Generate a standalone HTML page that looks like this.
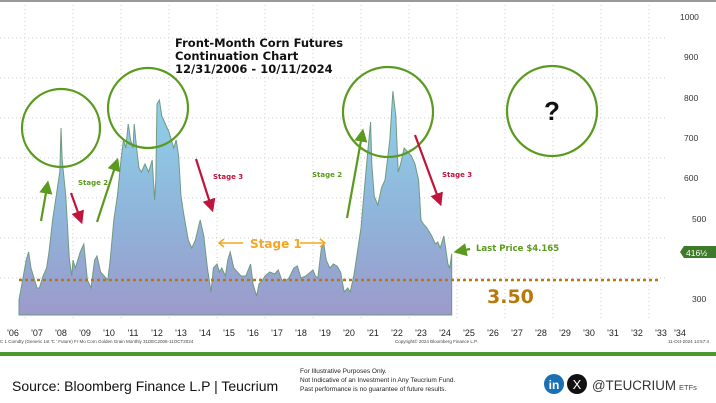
<!DOCTYPE html>
<html><head><meta charset="utf-8"><style>
html,body{margin:0;padding:0;background:#fff;}
body{width:716px;height:403px;overflow:hidden;position:relative;font-family:"Liberation Sans",sans-serif;}
</style></head><body>
<svg id="s" width="716" height="403" viewBox="0 0 716 403" xmlns="http://www.w3.org/2000/svg" style="position:absolute;left:0;top:0">
<defs>
<linearGradient id="g" x1="0" x2="0" gradientUnits="userSpaceOnUse" y1="90" y2="315">
<stop offset="0" stop-color="#8fd3ea"/><stop offset="0.55" stop-color="#8fb5da"/><stop offset="1" stop-color="#9c9acb"/>
</linearGradient>
<marker id="ag" markerWidth="6" markerHeight="6" refX="3" refY="3" orient="auto"><path d="M0,0 L6,3 L0,6 z" fill="#5a9a1e"/></marker>
<marker id="ar" markerWidth="6" markerHeight="6" refX="3" refY="3" orient="auto"><path d="M0,0 L6,3 L0,6 z" fill="#c0143c"/></marker>
</defs>
<rect x="0" y="0" width="716" height="2" fill="#999"/>
<g id="grid" stroke="#ccc" stroke-width="1" stroke-dasharray="1,3"></g>
<polygon id="area" fill="url(#g)" stroke="#6f9a80" stroke-width="1"/>
<line x1="19" y1="280" x2="660" y2="280" stroke="#b8780a" stroke-width="2.5" stroke-dasharray="3,3"/>
<g fill="none" stroke="#5a9a1e" stroke-width="2.2">
<circle cx="61" cy="128" r="39"/><circle cx="148" cy="108" r="40"/><circle cx="388" cy="112" r="45"/><circle cx="552" cy="111" r="45"/>
<line x1="41" y1="221" x2="47" y2="187" marker-end="url(#ag)"/>
<line x1="97" y1="222" x2="116" y2="164" marker-end="url(#ag)"/>
<line x1="347" y1="218" x2="362" y2="135" marker-end="url(#ag)"/>
<line x1="470" y1="249" x2="460" y2="251" marker-end="url(#ag)"/>
</g>
<g fill="none" stroke="#c0143c" stroke-width="2.2">
<line x1="71" y1="193" x2="80" y2="218" marker-end="url(#ar)"/>
<line x1="196" y1="159" x2="211" y2="206" marker-end="url(#ar)"/>
<line x1="415" y1="135" x2="439" y2="200" marker-end="url(#ar)"/>
</g>
<g stroke="#f5a623" stroke-width="1.5" fill="none">
<line x1="219" y1="243" x2="243" y2="243"/><path d="M224,239 L219,243 L224,247"/>
<line x1="300" y1="243" x2="325" y2="243"/><path d="M320,239 L325,243 L320,247"/>
</g>
<g font-family="DejaVu Sans, sans-serif" font-weight="bold" fill="#111" font-size="11.5">
<text x="175" y="47">Front-Month Corn Futures</text>
<text x="175" y="60">Continuation Chart</text>
<text x="175" y="73">12/31/2006 - 10/11/2024</text>
</g>
<text x="552" y="120" font-size="26" font-weight="bold" fill="#111" text-anchor="middle">?</text>
<g font-family="DejaVu Sans, sans-serif" font-weight="bold" font-size="7">
<text x="78" y="185" fill="#5a9a1e">Stage 2</text>
<text x="213" y="179" fill="#c0143c">Stage 3</text>
<text x="312" y="177" fill="#5a9a1e">Stage 2</text>
<text x="442" y="177" fill="#c0143c">Stage 3</text>
<text x="476" y="251" font-size="8.5" fill="#5a9a1e">Last Price $4.165</text>
</g>
<text x="250" y="248" font-family="DejaVu Sans, sans-serif" font-size="12" font-weight="bold" fill="#f5a623">Stage 1</text>
<text x="487" y="303" font-family="DejaVu Sans, sans-serif" font-size="19" font-weight="bold" fill="#b8780a">3.50</text>
<g font-size="8.5" fill="#333">
<text x="680" y="20">1000</text><text x="684" y="60">900</text><text x="684" y="101">800</text><text x="684" y="141">700</text><text x="684" y="181">600</text><text x="692" y="222">500</text><text x="692" y="302">300</text>
</g>
<path d="M680,252 L684,246 L716,246 L716,258 L684,258 z" fill="#3d7a2a"/>
<text x="686" y="256" font-size="8.5" fill="#fff">416½</text>
<g id="xl" font-size="9" fill="#222" text-anchor="middle"></g>
<text x="0" y="343" font-size="4.5" fill="#444">C 1 Comdty (Generic 1st 'C ' Future) Fr Mo Corn Golden Grain  Monthly 31DEC2006-11OCT2024</text>
<text x="395" y="343" font-size="4.5" fill="#444">Copyright© 2024 Bloomberg Finance L.P.</text>
<text x="668" y="343" font-size="4.5" fill="#444">11-Oct-2024 14:57:4</text>
<rect x="0" y="352" width="716" height="4" fill="#4a9a2e"/>
<text x="12" y="391" font-size="14" fill="#111">Source: Bloomberg Finance L.P | Teucrium</text>
<g font-size="6.5" fill="#222"><text x="300" y="373">For Illustrative Purposes Only.</text><text x="300" y="382">Not Indicative of an Investment in Any Teucrium Fund.</text><text x="300" y="391">Past performance is no guarantee of future results.</text></g>
<circle cx="554" cy="384" r="10" fill="#1b6fb5"/><text x="554" y="389" font-size="12" font-weight="bold" fill="#fff" text-anchor="middle">in</text>
<circle cx="577" cy="384" r="10" fill="#111"/><text x="577" y="389" font-size="13" fill="#fff" text-anchor="middle">X</text>
<text x="592" y="390" font-size="13.5" fill="#333" textLength="84" lengthAdjust="spacingAndGlyphs">@TEUCRIUM</text>
<text x="679" y="390" font-size="7.5" fill="#444">ETFs</text>
</svg>
<script>
var d=[[2007.0,300],[2007.05,400],[2007.15,420],[2007.25,380],[2007.35,360],[2007.5,330],[2007.6,330],[2007.75,360],[2007.9,380],[2008.0,420],[2008.15,500],[2008.3,560],[2008.45,620],[2008.5,730],[2008.55,650],[2008.7,560],[2008.85,400],[2008.95,360],[2009.0,400],[2009.1,380],[2009.3,420],[2009.45,440],[2009.6,350],[2009.75,330],[2009.9,400],[2010.0,410],[2010.15,370],[2010.3,360],[2010.45,350],[2010.55,400],[2010.7,500],[2010.85,560],[2011.0,650],[2011.1,700],[2011.2,680],[2011.3,740],[2011.4,700],[2011.5,680],[2011.55,740],[2011.65,680],[2011.75,630],[2011.85,620],[2012.0,640],[2012.15,620],[2012.3,650],[2012.4,550],[2012.45,600],[2012.5,790],[2012.6,800],[2012.7,760],[2012.85,740],[2013.0,720],[2013.1,700],[2013.2,680],[2013.3,700],[2013.4,660],[2013.5,560],[2013.6,520],[2013.8,450],[2013.95,430],[2014.1,450],[2014.3,500],[2014.45,460],[2014.6,380],[2014.75,320],[2014.85,380],[2015.0,390],[2015.1,370],[2015.2,380],[2015.35,360],[2015.45,400],[2015.55,420],[2015.7,380],[2015.85,370],[2016.0,360],[2016.2,360],[2016.4,390],[2016.5,340],[2016.65,310],[2016.75,340],[2016.9,350],[2017.0,360],[2017.2,370],[2017.4,365],[2017.55,375],[2017.7,350],[2017.9,350],[2018.0,355],[2018.2,380],[2018.35,385],[2018.5,355],[2018.7,360],[2018.9,370],[2019.0,375],[2019.1,360],[2019.2,355],[2019.35,430],[2019.45,440],[2019.55,400],[2019.7,380],[2019.85,390],[2020.0,385],[2020.15,370],[2020.3,320],[2020.45,330],[2020.55,320],[2020.7,360],[2020.85,420],[2021.0,480],[2021.1,550],[2021.25,650],[2021.4,745],[2021.45,640],[2021.55,560],[2021.7,537],[2021.85,580],[2022.0,600],[2022.2,700],[2022.33,822],[2022.45,760],[2022.55,620],[2022.65,640],[2022.8,680],[2022.95,670],[2023.1,660],[2023.25,640],[2023.4,600],[2023.5,500],[2023.6,490],[2023.75,480],[2023.85,470],[2023.95,460],[2024.1,440],[2024.2,445],[2024.3,430],[2024.45,460],[2024.55,420],[2024.62,390],[2024.7,380],[2024.78,416]];
function X(t){return 13+24*(t-2006.5);}function Y(v){return 280-(v-350)*0.4;}
var p=[[19,315]];d.forEach(function(a){p.push([a[0]==2007?19:X(a[0]),Y(a[1])]);});p.push([X(2024.78),315]);
document.getElementById('area').setAttribute('points',p.map(function(a){return a[0].toFixed(1)+','+a[1].toFixed(1)}).join(' '));
var ns='http://www.w3.org/2000/svg',g=document.getElementById('grid');
for(var y=38;y<=280;y+=40){var l=document.createElementNS(ns,'line');l.setAttribute('x1',0);l.setAttribute('x2',665);l.setAttribute('y1',y);l.setAttribute('y2',y);g.appendChild(l);}
for(var x=25;x<665;x+=48){var l=document.createElementNS(ns,'line');l.setAttribute('x1',x);l.setAttribute('x2',x);l.setAttribute('y1',5);l.setAttribute('y2',318);g.appendChild(l);}
var xl=document.getElementById('xl');
for(var yr=6;yr<=34;yr++){var t=document.createElementNS(ns,'text');t.setAttribute('x',13+24*(yr-6)+(yr==34?-5:0));t.setAttribute('y',336);t.textContent="'"+(yr<10?'0':'')+yr;xl.appendChild(t);}
</script>
</body></html>
